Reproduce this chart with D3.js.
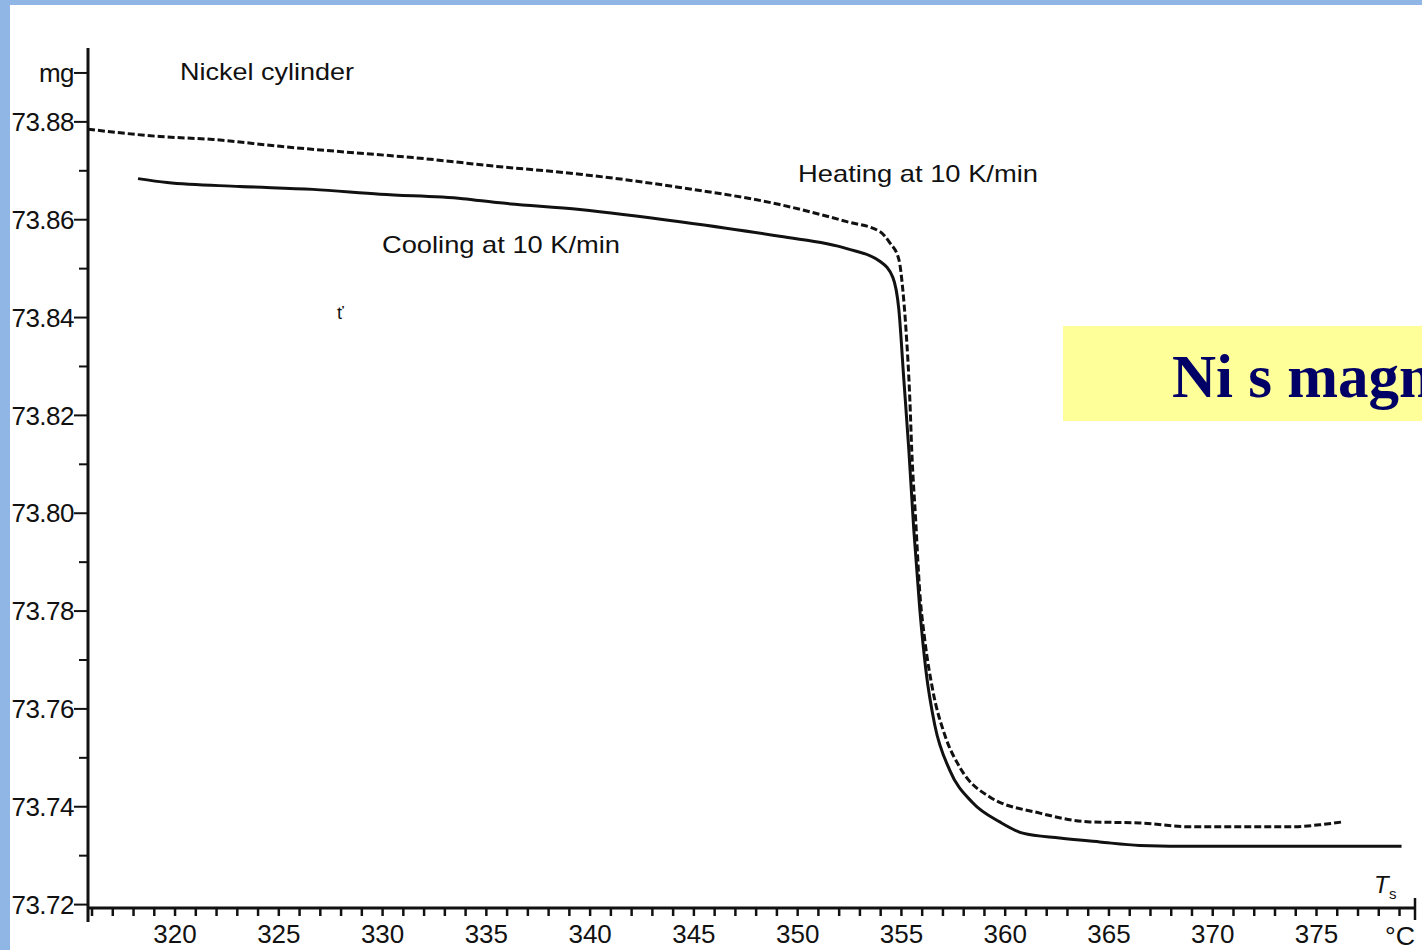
<!DOCTYPE html>
<html>
<head>
<meta charset="utf-8">
<script src="https://cdn.jsdelivr.net/npm/d3@7"></script>
<style>
  html, body { margin: 0; padding: 0; overflow: hidden; background: #ffffff; }
  svg { display: block; }
  .lbl { font-family: "Liberation Sans", Arial, sans-serif; fill: #111; }
</style>
</head>
<body>
<div id="chart"></div>
<script>
// heating at 10 K/min (dashed curve): temperature °C, mass mg
const heatT = [315.83, 319.3, 321.85, 325.08, 328.31, 331.49, 335.53, 339.53, 344.35, 349.16,
  352.39, 353.98, 354.46, 354.9, 355.09, 355.23, 355.43, 355.52, 355.71, 355.9, 356.15, 356.53,
  357.11, 357.83, 359.28, 361.69, 364.1, 366.5, 368.91, 371.32, 373.73, 375.17, 376.28];
const heatMg = [73.8784, 73.8769, 73.8763, 73.8749, 73.8737, 73.8726, 73.8708, 73.8692, 73.8665, 73.863,
  73.8595, 73.8575, 73.8552, 73.8518, 73.8456, 73.8383, 73.8231, 73.8129, 73.7986, 73.7842, 73.774, 73.7638,
  73.7546, 73.748, 73.7419, 73.7386, 73.7368, 73.7366, 73.7358, 73.7358, 73.7358, 73.7362, 73.7368];

// cooling at 10 K/min (solid curve)
const coolT = [318.24, 319.64, 323.15, 326.67, 329.9, 333.89, 335.53, 339.53, 344.35, 349.16,
  352.39, 353.98, 354.61, 354.9, 355.14, 355.38, 355.62, 355.91, 356.2, 356.63, 357.35, 358.46,
  359.76, 360.87, 362.65, 364.58, 366.5, 369.39, 374.21, 379.12];
const coolMg = [73.8683, 73.8675, 73.8667, 73.8661, 73.8651, 73.8642, 73.8634, 73.862, 73.8595, 73.8565,
  73.854, 73.8514, 73.8481, 73.8415, 73.8272, 73.8129, 73.7965, 73.7802, 73.7679, 73.7566, 73.7474, 73.7407,
  73.7368, 73.7345, 73.7335, 73.7327, 73.732, 73.7318, 73.7318, 73.7318];

// tick labels
const yTicks = [73.72, 73.73, 73.74, 73.75, 73.76, 73.77, 73.78, 73.79, 73.80, 73.81,
  73.82, 73.83, 73.84, 73.85, 73.86, 73.87, 73.88, 73.89];
const yLabels = ["73.72", "", "73.74", "", "73.76", "", "73.78", "", "73.80", "",
  "73.82", "", "73.84", "", "73.86", "", "73.88", "mg"];
const xTicks = d3.range(316, 380);
const xLabels = [320, 325, 330, 335, 340, 345, 350, 355, 360, 365, 370, 375];

const W = 1422, H = 950;

const svg = d3.select("#chart").append("svg")
  .attr("width", W).attr("height", H);

// slide background (blue frame + white panel)
svg.append("rect").attr("width", W).attr("height", H).attr("fill", "#8fb6e4");
svg.append("rect").attr("x", 10).attr("y", 5).attr("width", W - 10).attr("height", H - 5)
  .attr("fill", "#ffffff");

const x = d3.scaleLinear().domain([315.83, 379.77]).range([88, 1415]);
const y = d3.scaleLinear().domain([73.7192, 73.895]).range([908, 48]);

// y axis
const yAxis = svg.append("g")
  .attr("transform", "translate(88,0)")
  .call(d3.axisLeft(y).tickValues(yTicks).tickSizeOuter(0)
    .tickFormat((d, i) => yLabels[i]));
yAxis.select(".domain").remove();
yAxis.selectAll(".tick line")
  .attr("x2", (d, i) => (yLabels[i] ? -14 : -9))
  .attr("stroke", "#111").attr("stroke-width", 2);
yAxis.selectAll(".tick text")
  .attr("class", "lbl")
  .attr("x", -14)
  .attr("dy", "0.35em")
  .style("font-size", "26px")
  .style("letter-spacing", "-0.5px");

// x axis
const xAxis = svg.append("g")
  .attr("transform", "translate(0,908)")
  .call(d3.axisBottom(x).tickValues(xTicks).tickSizeOuter(0)
    .tickFormat((d) => (xLabels.includes(d) ? d : "")));
xAxis.select(".domain").remove();
xAxis.selectAll(".tick line")
  .attr("y2", 8).attr("stroke", "#111").attr("stroke-width", 2.5);
xAxis.selectAll(".tick text")
  .attr("class", "lbl")
  .attr("y", 17)
  .attr("dy", "0.71em")
  .style("font-size", "26px");

// axis lines
svg.append("line").attr("x1", 88).attr("x2", 88).attr("y1", 48).attr("y2", 922)
  .attr("stroke", "#111").attr("stroke-width", 3);
svg.append("line").attr("x1", 88).attr("x2", 1415).attr("y1", 908).attr("y2", 908)
  .attr("stroke", "#111").attr("stroke-width", 3);
svg.append("line").attr("x1", 1415).attr("x2", 1415).attr("y1", 898).attr("y2", 920)
  .attr("stroke", "#111").attr("stroke-width", 2.5);

const line = d3.line().x((d) => x(d[0])).y((d) => y(d[1])).curve(d3.curveMonotoneX);

svg.append("path")
  .datum(d3.zip(heatT, heatMg))
  .attr("fill", "none")
  .attr("stroke", "#111")
  .attr("stroke-width", 3)
  .attr("stroke-dasharray", "7,3")
  .attr("d", line);

svg.append("path")
  .datum(d3.zip(coolT, coolMg))
  .attr("fill", "none")
  .attr("stroke", "#111")
  .attr("stroke-width", 3)
  .attr("d", line);

// texts
const addText = (tx, ty, s, size, len) => {
  const t = svg.append("text")
    .attr("class", "lbl").attr("x", tx).attr("y", ty)
    .style("font-size", size + "px").text(s);
  if (len) t.attr("textLength", len).attr("lengthAdjust", "spacingAndGlyphs");
  return t;
};

addText(180, 80, "Nickel cylinder", 24, 174);
addText(798, 182, "Heating at 10 K/min", 24, 240);
addText(382, 253, "Cooling at 10 K/min", 24, 238);
addText(1385, 945, "°C", 25, 30);
addText(1374, 893, "T", 24).style("font-style", "italic");
addText(1389, 899, "s", 15);
addText(337, 319, "ť", 18);

// yellow caption box
svg.append("rect").attr("x", 1063).attr("y", 326).attr("width", 400).attr("height", 95)
  .attr("fill", "#ffff99");
svg.append("text")
  .attr("x", 1172).attr("y", 397)
  .style("font-family", "'Liberation Serif', 'Times New Roman', serif")
  .style("font-weight", "bold")
  .style("font-size", "61px")
  .attr("fill", "#000066")
  .text("Ni s magnetem");
</script>
</body>
</html>
